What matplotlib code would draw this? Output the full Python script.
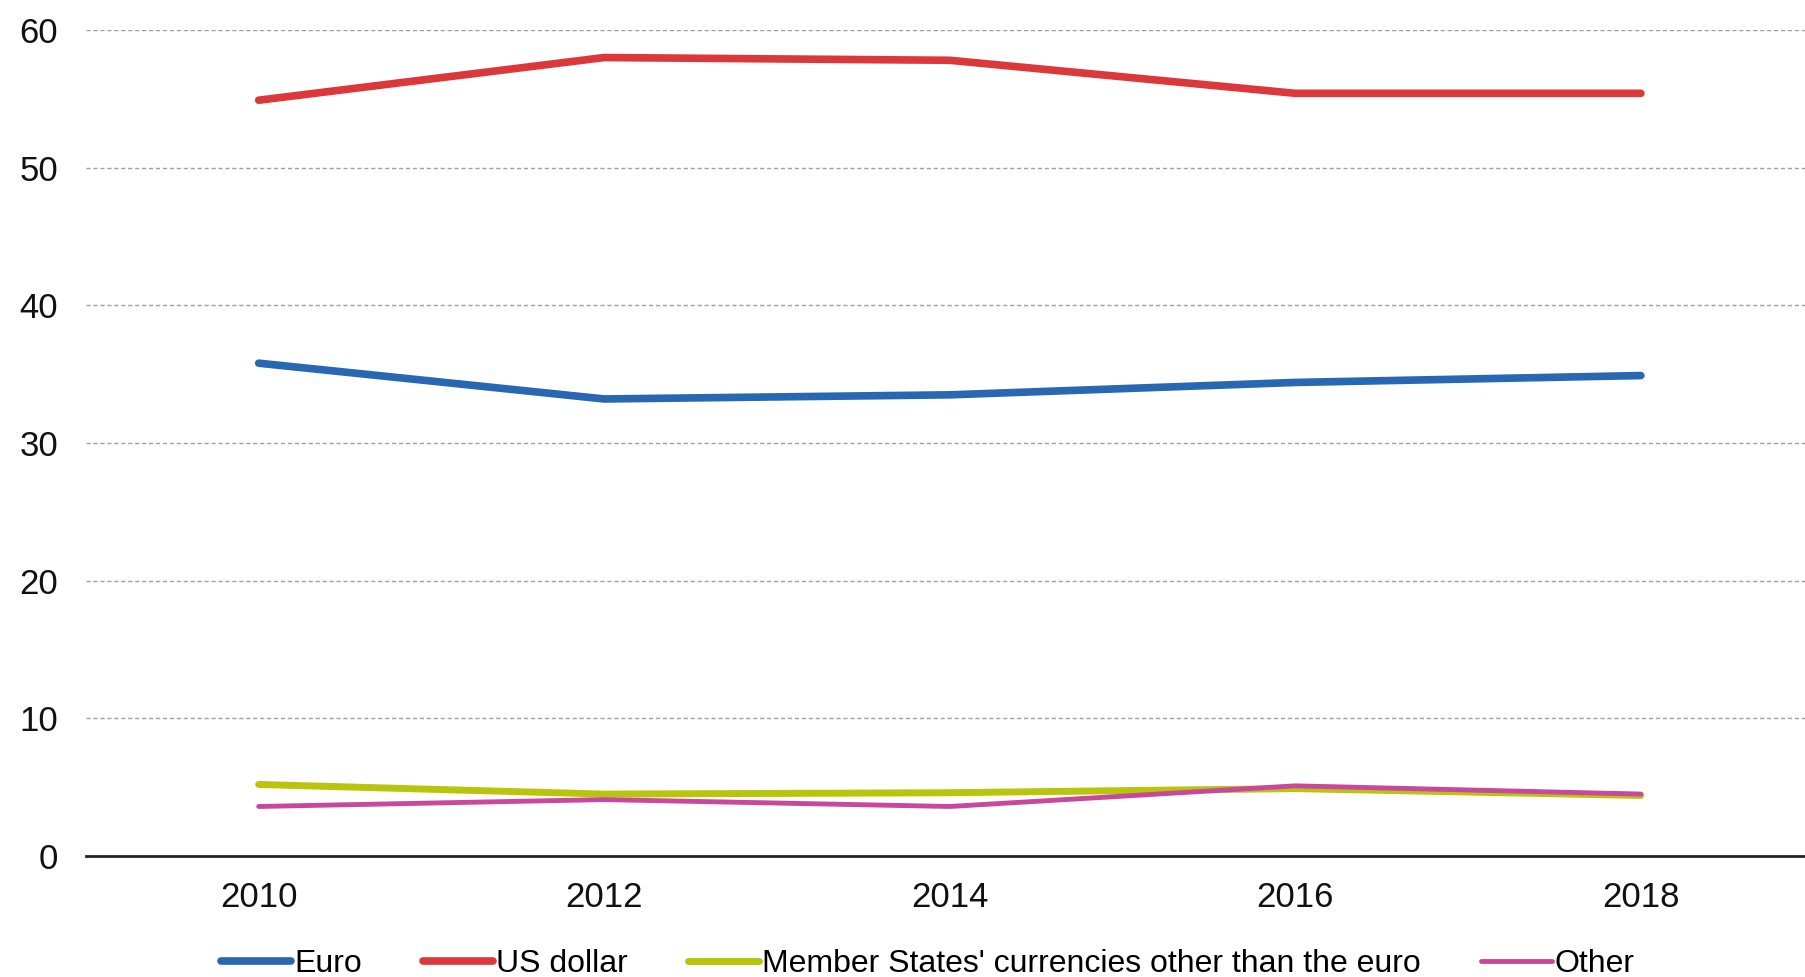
import matplotlib as m
m.use("Agg")
import matplotlib.pyplot as plt
from matplotlib import font_manager

# Currency shares, 2010-2018
years = [2010, 2012, 2014, 2016, 2018]
euro = [35.8, 33.2, 33.5, 34.4, 34.9]
usDollar = [54.9, 58.0, 57.8, 55.4, 55.4]
memberStates = [5.2, 4.5, 4.6, 4.9, 4.4]
other = [3.6, 4.1, 3.6, 5.1, 4.5]

seriesNames = ["Euro", "US dollar", "Member States' currencies other than the euro", "Other"]
yTicks = [0, 10, 20, 30, 40, 50, 60]

# narrow font if we have it
names = set(f.name for f in font_manager.fontManager.ttflist)
if "Liberation Sans Narrow" in names:
  plt.rcParams['font.family'] = ['Liberation Sans Narrow', 'DejaVu Sans']
else:
  plt.rcParams['font.family'] = ['Liberation Sans', 'DejaVu Sans']

fig = plt.figure(figsize=(18.05, 9.77), dpi=100)
ax = fig.add_axes([0.0476, 0.1238, 0.9524, 0.8455])

ax.plot(years, euro, color='#2867b2', lw=5.5, solid_capstyle='round', label=seriesNames[0], zorder=3)
ax.plot(years, usDollar, color='#dc383c', lw=5.5, solid_capstyle='round', label=seriesNames[1], zorder=3)
ax.plot(years, memberStates, color='#b9c40c', lw=5, solid_capstyle='round', label=seriesNames[2], zorder=3)
ax.plot(years, other, color='#c9479d', lw=3.5, solid_capstyle='round', label=seriesNames[3], zorder=4)

ax.set_xlim(2009, 2018.95)
ax.set_ylim(0, 60)
ax.set_xticks(years)
ax.set_yticks(yTicks)

# dashed grid, solid zero line
for t in yTicks[1:]:
  ax.axhline(t, color='#a0a0a0', lw=1, ls=(0, (3, 2)), zorder=1)
ax.axhline(0, color='#222222', lw=2, zorder=2, clip_on=False)

for s in ax.spines.values():
  s.set_visible(False)
ax.tick_params(axis='both', length=0, labelsize=25, colors='#111111')
ax.tick_params(axis='y', pad=20)
ax.tick_params(axis='x', pad=18)

fig.legend(loc='center', bbox_to_anchor=(0.514, 0.013), ncol=4, frameon=False,
           fontsize=23, handlelength=2.2, handletextpad=0.1, columnspacing=1.9,
           borderpad=0, borderaxespad=0)

fig.savefig("out.png", dpi=100)
